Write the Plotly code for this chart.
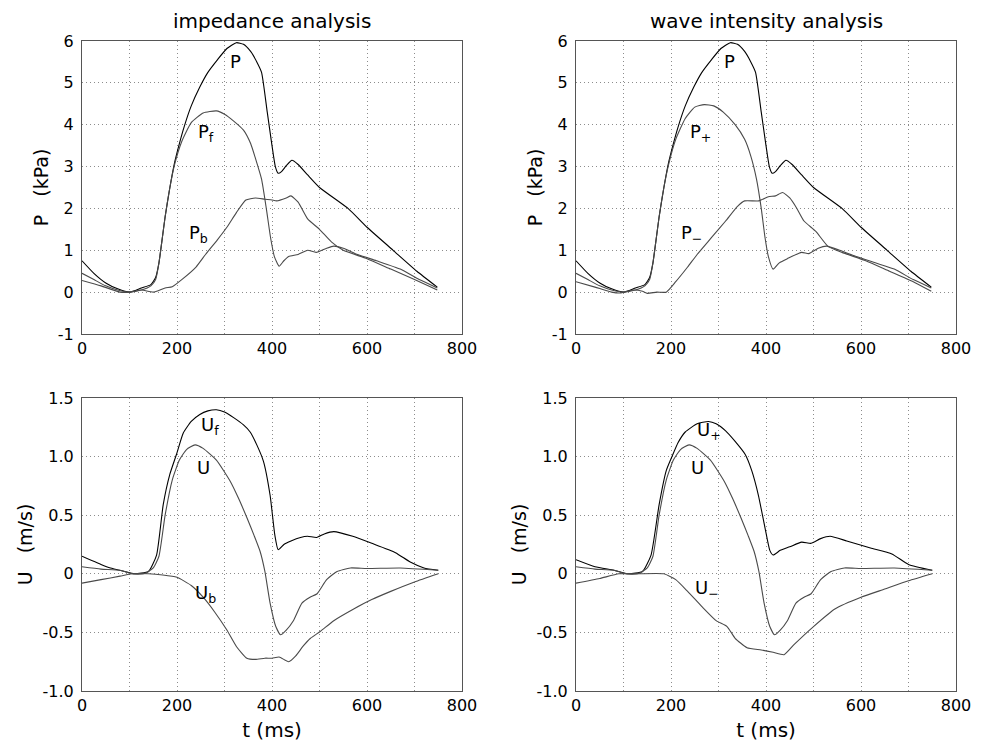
import plotly.graph_objects as go

# pressure (kPa), shared by both panels
t_p = [0, 25, 50, 75, 100, 125, 145, 155, 162, 168, 175, 185, 195, 205, 215, 230, 248, 265, 285, 305, 325,
       340, 355, 368, 378, 390, 400, 407, 413, 420, 430, 442, 455, 475, 500, 560, 600, 655, 705, 748]
p = [0.75, 0.45, 0.22, 0.08, 0.0, 0.1, 0.18, 0.35, 0.7, 1.2, 1.8, 2.5, 3.1, 3.55, 3.95, 4.45, 4.9, 5.25, 5.55, 5.82, 5.96,
     5.92, 5.75, 5.5, 5.25, 4.3, 3.5, 3.0, 2.84, 2.88, 3.02, 3.15, 3.05, 2.8, 2.5, 2.0, 1.55, 1.0, 0.5, 0.12]

# impedance analysis: forward / backward pressure
t_pf = [0, 25, 50, 75, 100, 125, 145, 155, 162, 168, 175, 185, 195, 210, 230, 255, 283, 300, 320, 340, 355,
        365, 378, 388, 397, 405, 415, 425, 435, 455, 475, 493, 515, 530, 550, 580, 620, 670, 710, 748]
p_f = [0.45, 0.3, 0.15, 0.05, 0.0, 0.05, 0.15, 0.3, 0.7, 1.2, 1.8, 2.5, 3.05, 3.6, 4.05, 4.28, 4.33, 4.25, 4.08, 3.87,
       3.55, 3.2, 2.7, 2.0, 1.3, 0.85, 0.62, 0.75, 0.85, 0.9, 1.0, 0.95, 1.05, 1.1, 1.05, 0.9, 0.75, 0.55, 0.3, 0.1]
t_pb = [0, 40, 80, 100, 125, 150, 175, 190, 210, 240, 260, 285, 305, 325, 345, 365, 385, 400, 410, 430, 440,
        455, 475, 500, 525, 550, 600, 650, 700, 748]
p_b = [0.28, 0.15, 0.0, 0.0, 0.05, 0.0, 0.1, 0.13, 0.3, 0.6, 0.9, 1.25, 1.55, 1.9, 2.2, 2.25, 2.22, 2.2, 2.18, 2.25, 2.3,
       2.15, 1.75, 1.5, 1.2, 1.0, 0.8, 0.55, 0.3, 0.05]

# wave intensity analysis: P+ / P-
t_pp = [0, 25, 50, 75, 100, 125, 145, 155, 162, 168, 175, 185, 195, 210, 230, 250, 270, 290, 310, 335, 355,
        368, 380, 390, 398, 405, 415, 428, 445, 475, 490, 510, 528, 555, 590, 630, 670, 710, 748]
p_plus = [0.45, 0.3, 0.15, 0.05, 0.0, 0.05, 0.15, 0.3, 0.7, 1.2, 1.8, 2.5, 3.05, 3.65, 4.15, 4.42, 4.48, 4.45, 4.3, 4.0,
          3.65, 3.25, 2.7, 2.0, 1.3, 0.85, 0.55, 0.7, 0.8, 0.95, 0.92, 1.05, 1.1, 1.0, 0.85, 0.7, 0.55, 0.3, 0.1]
t_pm = [0, 40, 75, 95, 120, 140, 150, 170, 190, 210, 235, 255, 285, 315, 340, 355, 385, 405, 420, 435, 450,
        465, 480, 505, 530, 560, 610, 660, 710, 748]
p_minus = [0.25, 0.12, 0.0, -0.02, 0.05, 0.02, -0.03, 0.0, 0.0, 0.25, 0.6, 0.9, 1.3, 1.7, 2.05, 2.18, 2.18, 2.28, 2.3,
           2.38, 2.25, 2.0, 1.7, 1.45, 1.1, 0.95, 0.75, 0.5, 0.25, 0.02]

# velocity (m/s), shared by both panels
t_u = [0, 40, 80, 105, 130, 150, 162, 175, 190, 205, 220, 238, 255, 283, 312, 330, 347, 362, 375, 385, 396, 408, 418,
       430, 445, 463, 480, 495, 515, 537, 565, 600, 670, 750]
u = [0.06, 0.04, 0.03, 0.0, 0.0, 0.05, 0.15, 0.5, 0.8, 0.97, 1.06, 1.1, 1.07, 0.97, 0.79, 0.64, 0.48, 0.33, 0.19, 0.02,
     -0.25, -0.45, -0.52, -0.48, -0.4, -0.25, -0.2, -0.17, -0.05, 0.02, 0.05, 0.045, 0.05, 0.03]

# impedance analysis: forward / backward velocity
t_uf = [0, 40, 60, 90, 110, 140, 157, 171, 185, 199, 213, 230, 248, 265, 283, 300, 320, 340, 354, 368, 382, 396, 406,
        413, 425, 440, 460, 475, 494, 510, 530, 570, 610, 660, 691, 720, 750]
u_f = [0.15, 0.08, 0.05, 0.02, 0.0, 0.02, 0.16, 0.59, 0.85, 1.02, 1.2, 1.3, 1.36, 1.39, 1.4, 1.38, 1.33, 1.27, 1.21, 1.1,
       0.96, 0.67, 0.33, 0.205, 0.25, 0.28, 0.31, 0.32, 0.31, 0.34, 0.36, 0.32, 0.26, 0.18, 0.1, 0.05, 0.03]
t_ub = [0, 40, 80, 105, 140, 170, 200, 230, 255, 280, 305, 325, 347, 365, 385, 400, 415, 435, 450, 465, 481, 502,
        530, 572, 610, 650, 700, 750]
u_b = [-0.08, -0.05, -0.02, 0.0, 0.0, -0.01, -0.03, -0.1, -0.2, -0.33, -0.48, -0.62, -0.72, -0.73, -0.72, -0.72, -0.71,
       -0.75, -0.7, -0.62, -0.55, -0.49, -0.4, -0.3, -0.22, -0.15, -0.07, 0.0]

# wave intensity analysis: U+ / U-
t_up = [0, 40, 80, 110, 140, 158, 175, 190, 201, 215, 230, 255, 279, 295, 315, 335, 356, 370, 384, 398, 408, 415, 430,
        450, 475, 495, 515, 535, 570, 620, 665, 700, 750]
u_plus = [0.12, 0.06, 0.03, 0.0, 0.02, 0.16, 0.59, 0.88, 0.99, 1.12, 1.21, 1.28, 1.3, 1.28, 1.22, 1.13, 1.02, 0.88, 0.67,
          0.39, 0.2, 0.16, 0.2, 0.23, 0.27, 0.26, 0.3, 0.32, 0.28, 0.22, 0.17, 0.08, 0.03]
t_um = [0, 50, 90, 130, 185, 210, 235, 265, 295, 318, 335, 360, 390, 415, 438, 460, 500, 545, 600, 650, 700, 750]
u_minus = [-0.08, -0.04, 0.0, 0.0, 0.0, -0.05, -0.15, -0.28, -0.4, -0.45, -0.55, -0.63, -0.65, -0.67, -0.69, -0.6,
           -0.45, -0.3, -0.2, -0.13, -0.06, 0.0]

x_ticks = [0, 200, 400, 600, 800]
p_ticks = [-1, 0, 1, 2, 3, 4, 5, 6]
u_ticks = [-1.0, -0.5, 0, 0.5, 1.0, 1.5]
u_labels = ["-1.0", "-0.5", "0", "0.5", "1.0", "1.5"]

FONT = "DejaVu Sans"
DARK = "#000000"
GREY = "#4a4a4a"
GRID = "#8c8c8c"
DOTS = "1px,3px"
SP = "\u00a0\u00a0\u00a0"

# the page body adds an 8px margin, so the figure is 8px smaller and positions are shifted
W, H, OFF = 980, 740, 8


def px_x(v):
    return (v - OFF) / W


def px_y(v):
    return 1 - (v - OFF) / H


fig = go.Figure()


def add_line(t, y, color, xa, ya):
    fig.add_trace(go.Scatter(
        x=t, y=y, mode="lines",
        line=dict(color=color, width=1.1, shape="spline", smoothing=0.5),
        xaxis=xa, yaxis=ya, showlegend=False, hoverinfo="skip"
    ))


add_line(t_p, p, DARK, "x", "y")
add_line(t_pf, p_f, GREY, "x", "y")
add_line(t_pb, p_b, GREY, "x", "y")

add_line(t_p, p, DARK, "x2", "y2")
add_line(t_pp, p_plus, GREY, "x2", "y2")
add_line(t_pm, p_minus, GREY, "x2", "y2")

add_line(t_uf, u_f, DARK, "x3", "y3")
add_line(t_u, u, GREY, "x3", "y3")
add_line(t_ub, u_b, GREY, "x3", "y3")

add_line(t_up, u_plus, DARK, "x4", "y4")
add_line(t_u, u, GREY, "x4", "y4")
add_line(t_um, u_minus, GREY, "x4", "y4")

left = [px_x(82), px_x(462)]
right = [px_x(576), px_x(956)]
top = [px_y(334), px_y(41)]
bottom = [px_y(691), px_y(398)]

axis_common = dict(
    showline=True, mirror=True, linecolor="#555", linewidth=1, automargin=False,
    showgrid=True, gridcolor=GRID, griddash=DOTS, gridwidth=1,
    zeroline=False, ticks="", tickfont=dict(family=FONT, size=16, color="black"),
    title_font=dict(family=FONT, size=19, color="black"),
)


def x_axis(domain, anchor, title=None):
    d = dict(axis_common, domain=domain, anchor=anchor, range=[0, 800],
             tickmode="array", tickvals=x_ticks,
             minor=dict(dtick=100, showgrid=True, gridcolor=GRID, griddash=DOTS, gridwidth=1))
    if title:
        d["title"] = dict(text=title, standoff=8, font=dict(family=FONT, size=20, color="black"))
    return d


def y_axis(domain, anchor, rng, vals, labels, title):
    return dict(axis_common, domain=domain, anchor=anchor, range=rng,
                tickmode="array", tickvals=vals, ticktext=labels, ticklabelstandoff=4,
                title=dict(text=title, standoff=4))


p_labels = [str(v) for v in p_ticks]
fig.update_layout(
    width=W, height=H,
    margin=dict(l=0, r=0, t=0, b=0, autoexpand=False),
    paper_bgcolor="white", plot_bgcolor="white",
    font=dict(family=FONT, size=16, color="black"),
    xaxis=x_axis(left, "y"),
    yaxis=y_axis(top, "x", [-1, 6], p_ticks, p_labels, "P" + SP + "(kPa)"),
    xaxis2=x_axis(right, "y2"),
    yaxis2=y_axis(top, "x2", [-1, 6], p_ticks, p_labels, "P" + SP + "(kPa)"),
    xaxis3=x_axis(left, "y3", "t (ms)"),
    yaxis3=y_axis(bottom, "x3", [-1, 1.5], u_ticks, u_labels, "U" + SP + "(m/s)"),
    xaxis4=x_axis(right, "y4", "t (ms)"),
    yaxis4=y_axis(bottom, "x4", [-1, 1.5], u_ticks, u_labels, "U" + SP + "(m/s)"),
)

# panel titles
for text, xc in [("impedance analysis", sum(left) / 2), ("wave intensity analysis", sum(right) / 2)]:
    fig.add_annotation(text=text, x=xc, y=px_y(21), xref="paper", yref="paper",
                       xanchor="center", yanchor="middle", showarrow=False,
                       font=dict(family=FONT, size=20, color="black"))

# curve labels
labels = [
    ("x", "y", 323, 5.5, "P"), ("x", "y", 262, 3.8, "P<sub>f</sub>"), ("x", "y", 245, 1.4, "P<sub>b</sub>"),
    ("x2", "y2", 323, 5.5, "P"), ("x2", "y2", 262, 3.8, "P<sub>+</sub>"), ("x2", "y2", 244, 1.4, "P<sub>\u2212</sub>"),
    ("x3", "y3", 270, 1.26, "U<sub>f</sub>"), ("x3", "y3", 256, 0.91, "U"), ("x3", "y3", 260, -0.17, "U<sub>b</sub>"),
    ("x4", "y4", 279, 1.22, "U<sub>+</sub>"), ("x4", "y4", 256, 0.91, "U"), ("x4", "y4", 276, -0.13, "U<sub>\u2212</sub>"),
]
for xa, ya, x, y, text in labels:
    fig.add_annotation(text=text, x=x, y=y, xref=xa, yref=ya, showarrow=False,
                       font=dict(family=FONT, size=18, color="black"))

fig.write_html("out.html")
